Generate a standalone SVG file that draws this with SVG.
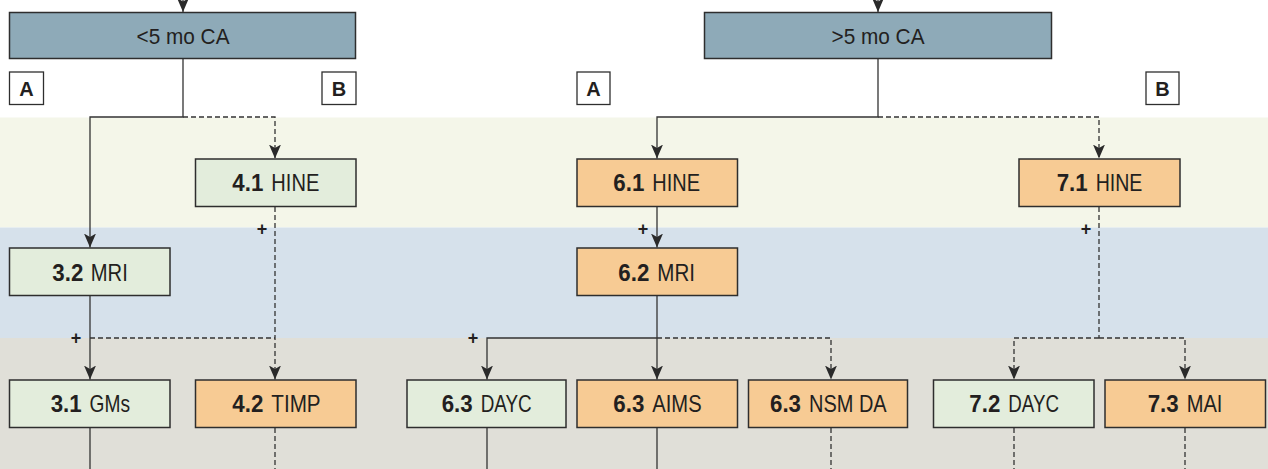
<svg xmlns="http://www.w3.org/2000/svg" width="1268" height="469" viewBox="0 0 1268 469">
<style>
.box{stroke:#2e2e2e;stroke-width:1.5}
.grey{fill:#8eaab8}
.green{fill:#e3eddc}
.orange{fill:#f7cb94}
.lbl{font-family:"Liberation Sans Narrow","Liberation Sans",Arial,sans-serif;font-size:24px;fill:#231f20}
.mid{text-anchor:middle;font-size:21.5px}
.b{font-weight:bold}
.tag{fill:#fff;stroke:#2e2e2e;stroke-width:1.3}
.tagt{font-family:"Liberation Sans",Arial,sans-serif;font-size:20px;font-weight:bold;fill:#231f20;text-anchor:middle}
.plus{font-family:"Liberation Sans",Arial,sans-serif;font-size:18px;font-weight:bold;fill:#231f20;text-anchor:middle}
.ln{fill:none;stroke:#333;stroke-width:1.3}
.d{stroke-dasharray:5 3}
</style>
<defs>
<marker id="ah" markerUnits="userSpaceOnUse" viewBox="0 0 14 12" markerWidth="14" markerHeight="12" refX="14" refY="6" orient="auto">
<path d="M0,0 L14,6 L0,12 L3.5,6 Z" fill="#2a2a2a"/>
</marker>
</defs>
<rect x="0" y="0" width="1268" height="469" fill="#ffffff"/>
<g id="bands">
<rect x="0" y="117.5" width="1268" height="110" fill="#f4f6e9"/>
<rect x="0" y="227.5" width="1268" height="110.5" fill="#d6e1eb"/>
<rect x="0" y="338" width="1268" height="131" fill="#e0dfd8"/>
</g>
<g id="connectors">
<line class="ln" x1="183" y1="0" x2="183" y2="12" marker-end="url(#ah)"/>
<line class="ln" x1="878" y1="0" x2="878" y2="12" marker-end="url(#ah)"/>
<polyline class="ln" points="183,59 183,117 90,117 90,247.5" marker-end="url(#ah)"/>
<polyline class="ln d" points="183,117 275,117 275,158.5" marker-end="url(#ah)"/>
<line class="ln d" x1="275" y1="207" x2="275" y2="379.5" marker-end="url(#ah)"/>
<line class="ln" x1="90" y1="296" x2="90" y2="379.5" marker-end="url(#ah)"/>
<line class="ln d" x1="90" y1="338" x2="275" y2="338"/>
<line class="ln" x1="90" y1="428" x2="90" y2="469"/>
<line class="ln d" x1="275" y1="428" x2="275" y2="469"/>
<polyline class="ln" points="878,59 878,117 657,117 657,158.5" marker-end="url(#ah)"/>
<polyline class="ln d" points="878,117 1099,117 1099,158.5" marker-end="url(#ah)"/>
<line class="ln" x1="657" y1="207" x2="657" y2="247.5" marker-end="url(#ah)"/>
<line class="ln" x1="657" y1="296" x2="657" y2="379.5" marker-end="url(#ah)"/>
<polyline class="ln" points="657,338 487,338 487,379.5" marker-end="url(#ah)"/>
<polyline class="ln d" points="657,338 831,338 831,379.5" marker-end="url(#ah)"/>
<line class="ln d" x1="1099" y1="207" x2="1099" y2="338"/>
<polyline class="ln d" points="1099,338 1014,338 1014,379.5" marker-end="url(#ah)"/>
<polyline class="ln d" points="1099,338 1185,338 1185,379.5" marker-end="url(#ah)"/>
<line class="ln" x1="487" y1="428" x2="487" y2="469"/>
<line class="ln" x1="657" y1="428" x2="657" y2="469"/>
<line class="ln d" x1="831" y1="428" x2="831" y2="469"/>
<line class="ln d" x1="1014" y1="428" x2="1014" y2="469"/>
<line class="ln d" x1="1185" y1="428" x2="1185" y2="469"/>
<text class="plus" x="262" y="234.5">+</text>
<text class="plus" x="76" y="344">+</text>
<text class="plus" x="643" y="234.5">+</text>
<text class="plus" x="473" y="343.5">+</text>
<text class="plus" x="1086" y="234.5">+</text>
</g>
<g id="n_lt5">
<rect class="box grey" x="9.5" y="12.5" width="346" height="46"/>
<text class="lbl mid" x="183" y="43.5" textLength="93" lengthAdjust="spacingAndGlyphs">&lt;5 mo CA</text>
</g>
<g id="n_gt5">
<rect class="box grey" x="704.5" y="12.5" width="347" height="46"/>
<text class="lbl mid" x="878" y="43.5" textLength="93" lengthAdjust="spacingAndGlyphs">&gt;5 mo CA</text>
</g>
<g id="tag_A1"><rect class="tag" x="9.5" y="72" width="34" height="32.5"/><text class="tagt" x="26.5" y="95.5">A</text></g>
<g id="tag_B1"><rect class="tag" x="322" y="72" width="34" height="32.5"/><text class="tagt" x="339" y="95.5">B</text></g>
<g id="tag_A2"><rect class="tag" x="577" y="72" width="33" height="32.5"/><text class="tagt" x="593.5" y="95.5">A</text></g>
<g id="tag_B2"><rect class="tag" x="1146" y="72" width="33" height="32.5"/><text class="tagt" x="1162.5" y="95.5">B</text></g>
<g id="n_41">
<rect class="box green" x="195.5" y="159" width="160.5" height="47.5"/>
<text class="lbl b" x="232.3" y="191" textLength="31" lengthAdjust="spacingAndGlyphs">4.1</text>
<text class="lbl" x="271.3" y="191" textLength="48" lengthAdjust="spacingAndGlyphs">HINE</text>
</g>
<g id="n_32">
<rect class="box green" x="9.5" y="248" width="160.5" height="47.5"/>
<text class="lbl b" x="52.3" y="280.7" textLength="31" lengthAdjust="spacingAndGlyphs">3.2</text>
<text class="lbl" x="90.8" y="280.7" textLength="37" lengthAdjust="spacingAndGlyphs">MRI</text>
</g>
<g id="n_31">
<rect class="box green" x="9.5" y="380" width="160.5" height="47.5"/>
<text class="lbl b" x="50.7" y="411.7" textLength="31" lengthAdjust="spacingAndGlyphs">3.1</text>
<text class="lbl" x="89.5" y="411.7" textLength="40.5" lengthAdjust="spacingAndGlyphs">GMs</text>
</g>
<g id="n_42">
<rect class="box orange" x="195.5" y="380" width="160.5" height="47.5"/>
<text class="lbl b" x="232.3" y="411.7" textLength="31" lengthAdjust="spacingAndGlyphs">4.2</text>
<text class="lbl" x="271.3" y="411.7" textLength="49.3" lengthAdjust="spacingAndGlyphs">TIMP</text>
</g>
<g id="n_61">
<rect class="box orange" x="577" y="159" width="160.5" height="47.5"/>
<text class="lbl b" x="613.3" y="191" textLength="31" lengthAdjust="spacingAndGlyphs">6.1</text>
<text class="lbl" x="652.3" y="191" textLength="47.7" lengthAdjust="spacingAndGlyphs">HINE</text>
</g>
<g id="n_62">
<rect class="box orange" x="577" y="248" width="160.5" height="47.5"/>
<text class="lbl b" x="618.3" y="280.7" textLength="31" lengthAdjust="spacingAndGlyphs">6.2</text>
<text class="lbl" x="657.3" y="280.7" textLength="37.7" lengthAdjust="spacingAndGlyphs">MRI</text>
</g>
<g id="n_63dayc">
<rect class="box green" x="407" y="380" width="159" height="47.5"/>
<text class="lbl b" x="441.7" y="411.7" textLength="31" lengthAdjust="spacingAndGlyphs">6.3</text>
<text class="lbl" x="480.7" y="411.7" textLength="51" lengthAdjust="spacingAndGlyphs">DAYC</text>
</g>
<g id="n_63aims">
<rect class="box orange" x="577" y="380" width="160.5" height="47.5"/>
<text class="lbl b" x="613.3" y="411.7" textLength="31" lengthAdjust="spacingAndGlyphs">6.3</text>
<text class="lbl" x="652.3" y="411.7" textLength="49.3" lengthAdjust="spacingAndGlyphs">AIMS</text>
</g>
<g id="n_63nsm">
<rect class="box orange" x="748.5" y="380" width="159" height="47.5"/>
<text class="lbl b" x="770" y="411.7" textLength="31" lengthAdjust="spacingAndGlyphs">6.3</text>
<text class="lbl" x="809" y="411.7" textLength="77.7" lengthAdjust="spacingAndGlyphs">NSM DA</text>
</g>
<g id="n_71">
<rect class="box orange" x="1019" y="159" width="161" height="47.5"/>
<text class="lbl b" x="1056.7" y="191" textLength="31" lengthAdjust="spacingAndGlyphs">7.1</text>
<text class="lbl" x="1095.7" y="191" textLength="46.7" lengthAdjust="spacingAndGlyphs">HINE</text>
</g>
<g id="n_72">
<rect class="box green" x="933.5" y="380" width="160.5" height="47.5"/>
<text class="lbl b" x="969.3" y="411.7" textLength="31" lengthAdjust="spacingAndGlyphs">7.2</text>
<text class="lbl" x="1008.3" y="411.7" textLength="50.7" lengthAdjust="spacingAndGlyphs">DAYC</text>
</g>
<g id="n_73">
<rect class="box orange" x="1105" y="380" width="160.5" height="47.5"/>
<text class="lbl b" x="1147.7" y="411.7" textLength="31" lengthAdjust="spacingAndGlyphs">7.3</text>
<text class="lbl" x="1186.7" y="411.7" textLength="35.7" lengthAdjust="spacingAndGlyphs">MAI</text>
</g>
</svg>
